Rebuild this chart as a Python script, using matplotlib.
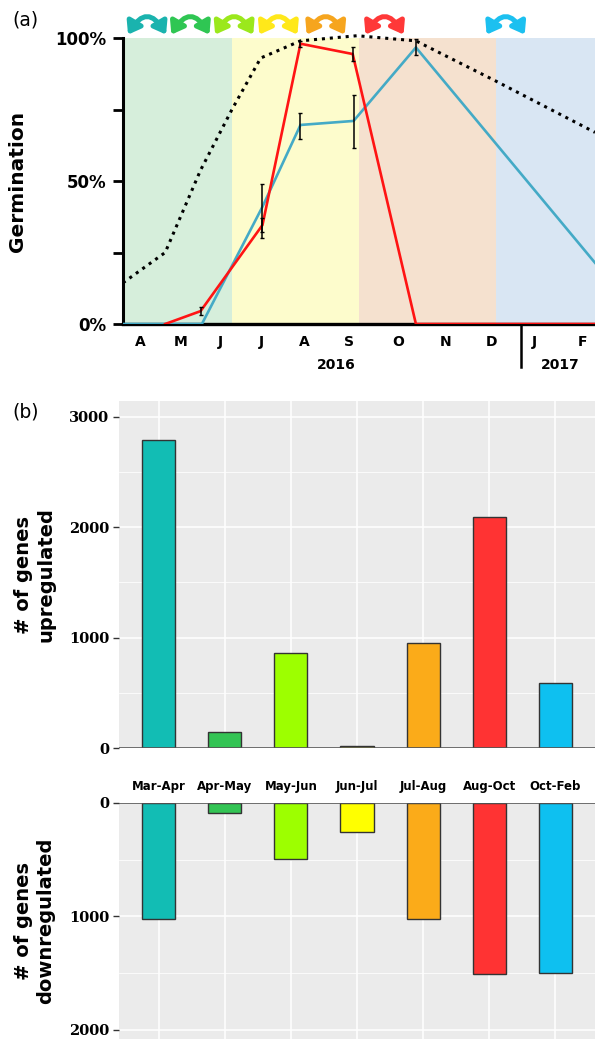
import numpy as np
import matplotlib
matplotlib.use("Agg")
import matplotlib.pyplot as plt
from matplotlib.patches import FancyArrowPatch
from matplotlib.ticker import MultipleLocator

# ---- panel (a) data: x in months since Jan 2016 ----
month_labels = ["A", "M", "J", "J", "A", "S", "O", "N", "D", "J", "F"]
month_pos = [3.5, 4.42, 5.30, 6.24, 7.20, 8.21, 9.34, 10.41, 11.44, 12.41, 13.50]
x_lim = (3.106, 13.78)
year_split = 12.10

band_edges = [3.106, 5.57, 8.44, 11.53, 13.78]
band_colors = ["#d6eedb", "#fdfccc", "#f5e1cf", "#d9e6f3"]

red_x = [4.06, 4.86, 6.26, 7.12, 8.30, 9.73, 13.78]
red_y = [0, 4.5, 34.6, 98.0, 94.4, 0, 0]
red_err_x = [4.86, 6.26, 7.12, 8.30]
red_err_y = [4.5, 34.6, 98.0, 94.4]
red_err = [1.5, 2.5, 1.0, 2.6]

blue_x = [3.106, 4.89, 6.26, 7.12, 8.32, 9.73, 13.78]
blue_y = [0, 0, 41.0, 69.6, 71.0, 96.7, 21.4]
blue_err_x = [6.26, 7.12, 8.32, 9.73]
blue_err_y = [39.5, 69.3, 70.8, 97.0]
blue_err = [9.5, 4.5, 9.3, 2.8]

dot_x = [3.106, 4.06, 4.86, 5.57, 6.22, 7.12, 8.40, 9.73, 11.53, 13.78]
dot_y = [14.4, 25.0, 53.8, 75.0, 93.0, 99.0, 100.8, 99.0, 85.0, 67.0]

arrow_x = [3.65, 4.63, 5.62, 6.62, 7.69, 9.02, 11.76]
arrow_colors = ["#1ab3ae", "#2fc653", "#9be81c", "#ffe81a", "#f6a51e", "#ff3838", "#1cc0f0"]

# ---- panel (b) data ----
periods = ["Mar-Apr", "Apr-May", "May-Jun", "Jun-Jul", "Jul-Aug", "Aug-Oct", "Oct-Feb"]
up_genes = [2790, 145, 863, 20, 955, 2090, 590]
down_genes = [1023, 91, 491, 254, 1023, 1509, 1497]
bar_colors = ["#12bdb4", "#33c454", "#9dff00", "#ffff00", "#fbab19", "#ff3333", "#0ec0f0"]

W, H = 595, 1039
fig = plt.figure(figsize=(W / 100, H / 100), dpi=100)

def fx(px):
    return px / W

def fy(px):
    return 1 - px / H

# ================= panel (a) =================
ax = fig.add_axes([fx(123), fy(324), 1 - fx(123), (324 - 38) / H])
for i, c in enumerate(band_colors):
    ax.axvspan(band_edges[i], band_edges[i + 1], color=c, lw=0, zorder=0)

ax.plot(dot_x, dot_y, color="black", ls=(0, (1, 1.6)), lw=2.2, zorder=3, clip_on=False)
ax.plot(blue_x, blue_y, color="#44aac6", lw=1.9, zorder=4)
ax.plot(red_x, red_y, color="#ff1414", lw=1.9, zorder=4)
ax.errorbar(blue_err_x, blue_err_y, yerr=blue_err, fmt="none", ecolor="black",
            elinewidth=1.1, capsize=1.5, zorder=5)
ax.errorbar(red_err_x, red_err_y, yerr=red_err, fmt="none", ecolor="black",
            elinewidth=1.1, capsize=1.5, zorder=5)

ax.set_xlim(*x_lim)
ax.set_ylim(0, 100)
for s in ["top", "right"]:
    ax.spines[s].set_visible(False)
ax.spines["left"].set_linewidth(2.2)
ax.spines["bottom"].set_linewidth(2.4)
ax.set_yticks([0, 25, 50, 75, 100])
ax.set_yticklabels(["0%", "", "50%", "", "100%"])
ax.tick_params(axis="y", direction="out", length=7, width=2, labelsize=12, pad=5)
ax.set_xticks(month_pos)
ax.set_xticklabels(month_labels)
ax.tick_params(axis="x", length=0, labelsize=10, pad=8)
for t in ax.get_xticklabels() + ax.get_yticklabels():
    t.set_fontweight("bold")
ax.set_ylabel("Germination", fontsize=14.5, fontweight="bold", labelpad=20)

ax.text(7.93, -14.3, "2016", ha="center", va="center", fontsize=10, fontweight="bold")
ax.text(12.99, -14.3, "2017", ha="center", va="center", fontsize=10, fontweight="bold")
ax.plot([year_split, year_split], [0, -15], color="black", lw=1.8, clip_on=False)

# curved transition arrows above the plot
for xc, col in zip(arrow_x, arrow_colors):
    arr = FancyArrowPatch((xc - 0.43, 101.2), (xc + 0.43, 101.2),
                          connectionstyle="arc3,rad=-0.85",
                          arrowstyle="<|-|>,head_length=7,head_width=5",
                          color=col, lw=3.6, shrinkA=0, shrinkB=0,
                          mutation_scale=1)
    arr.set_clip_on(False)
    ax.add_patch(arr)

fig.text(fx(12), fy(20), "(a)", fontsize=13.5, va="center", ha="left")

# ================= panel (b) =================
def gg_axes(a):
    a.set_facecolor("#ebebeb")
    for s in a.spines.values():
        s.set_visible(False)
    a.grid(True, which="major", color="white", lw=1.1)
    a.grid(True, which="minor", axis="y", color="white", lw=0.55)
    a.set_axisbelow(True)
    a.set_xlim(-0.6, 6.6)
    a.yaxis.set_major_locator(MultipleLocator(1000))
    a.yaxis.set_minor_locator(MultipleLocator(500))
    a.tick_params(axis="y", which="major", length=4, width=1, color="#333333",
                  labelsize=10.5, pad=3)
    a.tick_params(axis="y", which="minor", length=0)
    for t in a.get_yticklabels():
        t.set_fontfamily("DejaVu Serif")
        t.set_fontweight("bold")

xpos = np.arange(len(periods))

ax_up = fig.add_axes([fx(119), fy(748), 1 - fx(119), (748 - 401) / H])
ax_up.bar(xpos, up_genes, width=0.5, color=bar_colors, edgecolor="#333333", lw=1, zorder=3)
ax_up.axhline(0, color="#555555", lw=1.2, zorder=4)
ax_up.set_ylim(0, 3145)
ax_up.set_xticks(xpos)
ax_up.set_xticklabels(periods)
ax_up.tick_params(axis="x", length=0, labelsize=8.5, pad=23)
for t in ax_up.get_xticklabels():
    t.set_fontweight("bold")
gg_axes(ax_up)
ax_up.set_ylabel("# of genes\nupregulated", fontsize=14, fontweight="bold", labelpad=10)

ax_dn = fig.add_axes([fx(119), 0, 1 - fx(119), (H - 803) / H])
ax_dn.bar(xpos, down_genes, width=0.5, color=bar_colors, edgecolor="#333333", lw=1, zorder=3)
ax_dn.axhline(0, color="#555555", lw=1.2, zorder=4)
ax_dn.set_ylim(2080, 0)
ax_dn.set_xticks(xpos)
ax_dn.tick_params(axis="x", length=0, labelbottom=False)
gg_axes(ax_dn)
ax_dn.set_ylabel("# of genes\ndownregulated", fontsize=14, fontweight="bold", labelpad=10)

fig.text(fx(12), fy(412), "(b)", fontsize=13.5, va="center", ha="left")

fig.savefig("out.png", dpi=100)
